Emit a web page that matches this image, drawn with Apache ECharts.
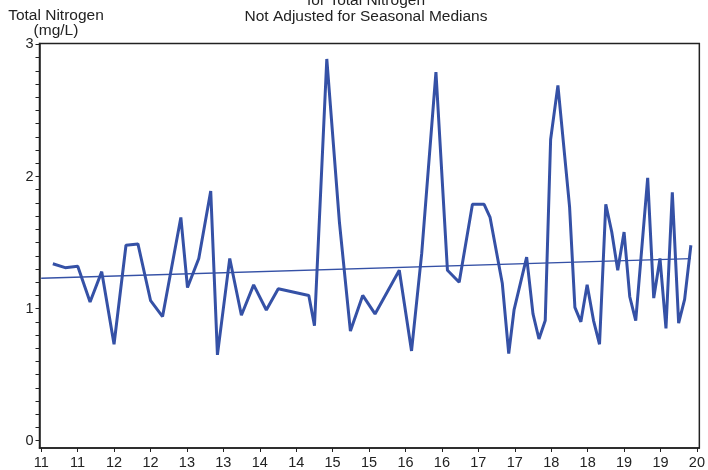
<!DOCTYPE html>
<html>
<head>
<meta charset="utf-8">
<script src="https://cdn.jsdelivr.net/npm/echarts@6/dist/echarts.min.js"></script>
<style>html,body{margin:0;padding:0;background:#fff}#c{width:708px;height:470px}</style>
</head>
<body>
<div id="c"></div>
<script>
// decimal years of samples
var sampleDates = [2011.160,2011.329,2011.502,2011.671,2011.831,2012.000,2012.164,2012.328,2012.502,2012.666,
  2012.917,2013.008,2013.163,2013.327,2013.419,2013.588,2013.748,2013.916,2014.090,2014.254,
  2014.673,2014.751,2014.920,2015.094,2015.244,2015.413,2015.582,2015.915,2016.083,2016.223,
  2016.418,2016.576,2016.737,2016.919,2017.079,2017.161,2017.329,2017.417,2017.490,2017.663,
  2017.750,2017.832,2017.918,2017.992,2018.092,2018.252,2018.325,2018.407,2018.493,2018.581,
  2018.663,2018.749,2018.831,2018.913,2019.000,2019.078,2019.160,2019.324,2019.407,2019.493,
  2019.575,2019.662,2019.749,2019.831,2019.917];
// total nitrogen, mg/L
var nitrogen = [1.34,1.31,1.32,1.05,1.28,0.73,1.48,1.49,1.06,0.94,
  1.69,1.16,1.38,1.89,0.65,1.38,0.95,1.18,0.99,1.15,
  1.10,0.87,2.89,1.65,0.83,1.10,0.96,1.29,0.68,1.42,
  2.79,1.29,1.20,1.79,1.79,1.69,1.19,0.66,0.99,1.39,
  0.96,0.77,0.91,2.28,2.69,1.77,1.01,0.90,1.18,0.91,
  0.73,1.79,1.58,1.29,1.58,1.09,0.91,1.99,1.08,1.38,
  0.85,1.88,0.89,1.07,1.48];
// trend line end points
var trendDates = [2011.0, 2019.917];
var trendValues = [1.23, 1.378];
var xTicks = [2011,2011.5,2012,2012.5,2013,2013.5,2014,2014.5,2015,2015.5,2016,2016.5,2017,2017.5,2018,2018.5,2019,2019.5,2020];
var yLabels = [0,1,2,3];
var yMinorTicks = [];
for (var i = 0; i <= 30; i++) yMinorTicks.push(i / 10);

var line = sampleDates.map(function(d, i){ return [d, nitrogen[i]]; });
var trend = trendDates.map(function(d, i){ return [d, trendValues[i]]; });

var FONT = 'Liberation Sans, Arial, sans-serif';
var AX = '#222';
var BLUE = '#3551a6';

var chart = echarts.init(document.getElementById('c'), null, {renderer:'canvas'});
chart.setOption({
  animation: false,
  grid: {left: 39.5, right: 7.5, top: 43.5, bottom: 21.7, show: true, borderColor: AX, borderWidth: 1.5, backgroundColor: '#fff'},
  xAxis: {
    type: 'value', min: 2010.977, max: 2020.033,
    axisLine: {show: true, onZero: false, lineStyle: {color: AX, width: 1.5}},
    axisTick: {show: true, length: 4, customValues: xTicks, lineStyle: {color: AX, width: 1}},
    axisLabel: {customValues: xTicks, margin: 7, color: AX, fontSize: 14.5, fontFamily: FONT,
      formatter: function(v){ return String(Math.floor(v + 1e-6) % 100); }},
    splitLine: {show: false}
  },
  yAxis: {
    type: 'value', min: -0.055, max: 3.007,
    axisLine: {show: true, onZero: false, lineStyle: {color: AX, width: 1.5}},
    axisTick: {show: true, length: 4, customValues: yMinorTicks, lineStyle: {color: AX, width: 1}},
    axisLabel: {customValues: yLabels, margin: 6, color: AX, fontSize: 14.5, fontFamily: FONT},
    splitLine: {show: false}
  },
  series: [
    {type: 'line', data: line, symbol: 'none', lineStyle: {color: BLUE, width: 3}, z: 3},
    {type: 'line', data: trend, symbol: 'none', lineStyle: {color: BLUE, width: 1.3}, z: 2}
  ],
  graphic: [
    {type: 'text', style: {text: 'for Total Nitrogen', x: 366, y: 1, align: 'center', verticalAlign: 'middle', font: '15.5px ' + FONT, fill: AX}},
    {type: 'text', style: {text: 'Not Adjusted for Seasonal Medians', x: 366, y: 17, align: 'center', verticalAlign: 'middle', font: '15.5px ' + FONT, fill: AX}},
    {type: 'text', style: {text: 'Total Nitrogen', x: 56, y: 16, align: 'center', verticalAlign: 'middle', font: '15.5px ' + FONT, fill: AX}},
    {type: 'text', style: {text: '(mg/L)', x: 56, y: 31, align: 'center', verticalAlign: 'middle', font: '15.5px ' + FONT, fill: AX}}
  ]
});
</script>
</body>
</html>
